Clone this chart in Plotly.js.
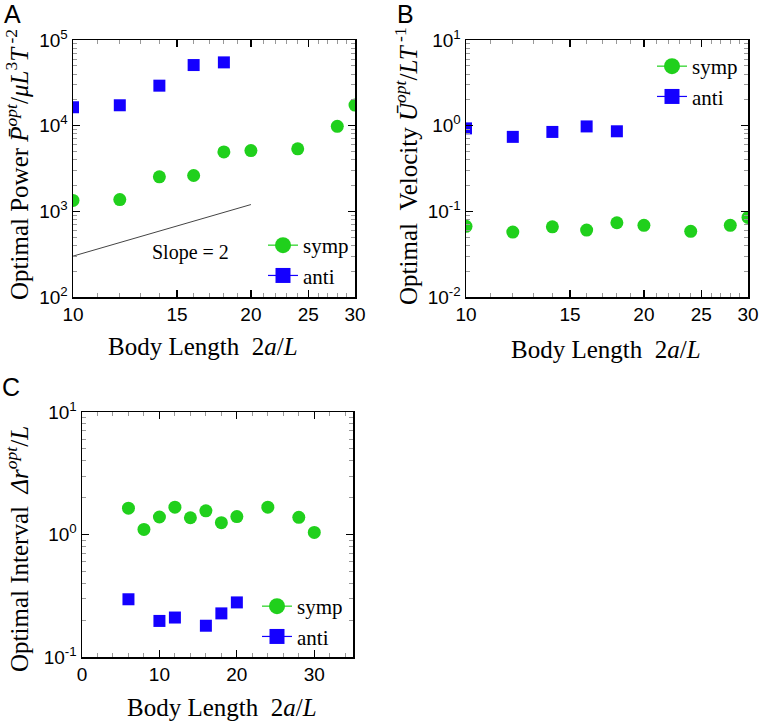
<!DOCTYPE html>
<html>
<head>
<meta charset="utf-8">
<script src="https://cdn.plot.ly/plotly-3.0.1.min.js"></script>
<style>html,body{margin:0;padding:0;background:#fff;}#chart{width:760px;height:721px;}</style>
</head>
<body>
<div id="chart"></div>
<script>
// ---- Data ----
// Panel A: optimal power vs body length
const powerSympX = [10, 12, 14, 16, 18, 20, 24, 28, 30];
const powerSympY = [1340, 1370, 2530, 2620, 4940, 5120, 5360, 9820, 17400];
const powerAntiX = [10, 12, 14, 16, 18];
const powerAntiY = [16400, 17300, 29300, 51000, 54800];
const slopeX = [10, 20];
const slopeY = [300, 1200];

// Panel B: optimal velocity vs body length
const velSympX = [10, 12, 14, 16, 18, 20, 24, 28, 30];
const velSympY = [0.0668, 0.0573, 0.066, 0.0605, 0.0736, 0.0687, 0.0585, 0.0687, 0.085];
const velAntiX = [10, 12, 14, 16, 18];
const velAntiY = [0.93, 0.74, 0.845, 0.98, 0.86];

// Panel C: optimal interval vs body length
const intSympX = [6, 8, 10, 12, 14, 16, 18, 20, 24, 28, 30];
const intSympY = [1.64, 1.10, 1.39, 1.67, 1.37, 1.56, 1.25, 1.40, 1.67, 1.38, 1.04];
const intAntiX = [6, 10, 12, 16, 18, 20];
const intAntiY = [0.296, 0.197, 0.21, 0.18, 0.227, 0.279];

// Tick labels
const logXTicks = [10, 15, 20, 25, 30];
const powerTickVals = [1e2, 1e3, 1e4, 1e5];
const powerTickText = ['10<sup>2</sup>', '10<sup>3</sup>', '10<sup>4</sup>', '10<sup>5</sup>'];
const velTickVals = [1e-2, 1e-1, 1e0, 1e1];
const velTickText = ['10<sup>-2</sup>', '10<sup>-1</sup>', '10<sup>0</sup>', '10<sup>1</sup>'];
const intTickVals = [1e-1, 1e0, 1e1];
const intTickText = ['10<sup>-1</sup>', '10<sup>0</sup>', '10<sup>1</sup>'];
const linXTicks = [0, 10, 20, 30];
const seriesNames = ['symp', 'anti'];

// ---- Styles ----
const GREEN = '#20d01c';
const BLUE = '#1400ff';
const SANS = 'Liberation Sans, Arial, sans-serif';
const SERIF = 'Liberation Serif, Times New Roman, serif';
const W = 760, H = 721;
const px = v => v / W;
const py = v => 1 - v / H;

function logMinor(lo, hi) {
  const out = [];
  for (let e = lo; e < hi; e++) for (let m = 2; m <= 9; m++) out.push(m * Math.pow(10, e));
  return out;
}
function intMinor(lo, hi, step, majors) {
  const out = [];
  for (let v = lo; v <= hi; v += step) if (majors.indexOf(v) < 0) out.push(v);
  return out;
}

const axBase = {
  showgrid: false, zeroline: false, showline: true, linecolor: '#000', linewidth: 1.5,
  mirror: 'allticks', ticks: 'inside', ticklen: 7, tickwidth: 1.2, tickcolor: '#000',
  tickfont: {family: SANS, size: 19, color: '#000'}, tickmode: 'array'
};
function ax(extra) { return Object.assign({}, axBase, extra); }
const minorStyle = {ticks: 'inside', ticklen: 4, tickwidth: 1, tickcolor: '#999', showgrid: false};

const mkSymp = {symbol: 'circle', size: 13, color: GREEN};
const mkAnti = {symbol: 'square', size: 12, color: BLUE};

const traces = [
  {x: slopeX, y: slopeY, mode: 'lines', line: {color: '#444', width: 1}, xaxis: 'x', yaxis: 'y', showlegend: false, hoverinfo: 'skip'},
  {x: powerSympX, y: powerSympY, mode: 'markers', marker: mkSymp, xaxis: 'x', yaxis: 'y', showlegend: false, name: seriesNames[0]},
  {x: powerAntiX, y: powerAntiY, mode: 'markers', marker: mkAnti, xaxis: 'x', yaxis: 'y', showlegend: false, name: seriesNames[1]},
  {x: velSympX, y: velSympY, mode: 'markers', marker: mkSymp, xaxis: 'x2', yaxis: 'y2', showlegend: false, name: seriesNames[0]},
  {x: velAntiX, y: velAntiY, mode: 'markers', marker: mkAnti, xaxis: 'x2', yaxis: 'y2', showlegend: false, name: seriesNames[1]},
  {x: intSympX, y: intSympY, mode: 'markers', marker: mkSymp, xaxis: 'x3', yaxis: 'y3', showlegend: false, name: seriesNames[0]},
  {x: intAntiX, y: intAntiY, mode: 'markers', marker: mkAnti, xaxis: 'x3', yaxis: 'y3', showlegend: false, name: seriesNames[1]}
];
// legend entries (marker with short line through it)
[['legend', 'x', 'y'], ['legend2', 'x2', 'y2'], ['legend3', 'x3', 'y3']].forEach(([lg, xa, ya]) => {
  traces.push({x: [null], y: [null], mode: 'lines+markers', name: seriesNames[0], legend: lg, xaxis: xa, yaxis: ya,
    line: {color: GREEN, width: 1.2}, marker: {symbol: 'circle', size: 16, color: GREEN}});
  traces.push({x: [null], y: [null], mode: 'lines+markers', name: seriesNames[1], legend: lg, xaxis: xa, yaxis: ya,
    line: {color: BLUE, width: 1.2}, marker: {symbol: 'square', size: 15, color: BLUE}});
});

const legBase = {bgcolor: 'rgba(0,0,0,0)', borderwidth: 0, font: {family: SERIF, size: 21, color: '#000'},
  xanchor: 'left', yanchor: 'top', tracegroupgap: 0, itemsizing: 'trace'};

const titleFont = {family: SERIF, size: 25, color: '#000'};
const letterFont = {family: SANS, size: 25, color: '#000'};

const annotations = [
  {text: 'A', x: px(12), y: py(14), font: letterFont},
  {text: 'B', x: px(405), y: py(14), font: letterFont},
  {text: 'C', x: px(11), y: py(387), font: letterFont},
  {text: 'Slope = 2', x: px(190), y: py(252), font: {family: SERIF, size: 20, color: '#000'}},
  {text: 'Body Length\u00a0\u00a02<i>a</i>/<i>L</i>', x: px(203), y: py(346), font: titleFont},
  {text: 'Body Length\u00a0\u00a02<i>a</i>/<i>L</i>', x: px(606), y: py(349), font: titleFont},
  {text: 'Body Length\u00a0\u00a02<i>a</i>/<i>L</i>', x: px(222), y: py(707), font: titleFont},
  {text: 'Optimal Power <i>P̄</i><sup><i>opt</i></sup>/<i>μL</i><sup>3</sup><i>T</i><sup> -2</sup>', x: px(17), y: py(165), textangle: -90, font: titleFont},
  {text: 'Optimal\u00a0\u00a0Velocity <i>Ū</i><sup><i>opt</i></sup>/<i>LT</i><sup> -1</sup>', x: px(406), y: py(166), textangle: -90, font: titleFont},
  {text: 'Optimal Interval\u00a0\u00a0<i>Δr</i><sup><i>opt</i></sup>/<i>L</i>', x: px(17), y: py(549), textangle: -90, font: titleFont}
].map(a => Object.assign({xref: 'paper', yref: 'paper', showarrow: false, xanchor: 'center', yanchor: 'middle'}, a));

const layout = {
  width: W, height: H, margin: {l: 0, r: 0, t: 0, b: 0, pad: 0},
  paper_bgcolor: '#fff', plot_bgcolor: '#fff', showlegend: true,
  xaxis: ax({type: 'log', domain: [px(73), px(355)], anchor: 'y', range: [1, Math.log10(30)],
    tickvals: logXTicks, ticktext: logXTicks.map(String),
    minor: Object.assign({tickmode: 'array', tickvals: intMinor(10, 30, 1, logXTicks)}, minorStyle)}),
  yaxis: ax({type: 'log', domain: [py(297), py(40)], anchor: 'x', range: [2, 5],
    tickvals: powerTickVals, ticktext: powerTickText,
    minor: Object.assign({tickmode: 'array', tickvals: logMinor(2, 5)}, minorStyle)}),
  xaxis2: ax({type: 'log', domain: [px(466), px(748)], anchor: 'y2', range: [1, Math.log10(30)],
    tickvals: logXTicks, ticktext: logXTicks.map(String),
    minor: Object.assign({tickmode: 'array', tickvals: intMinor(10, 30, 1, logXTicks)}, minorStyle)}),
  yaxis2: ax({type: 'log', domain: [py(297), py(40)], anchor: 'x2', range: [-2, 1],
    tickvals: velTickVals, ticktext: velTickText,
    minor: Object.assign({tickmode: 'array', tickvals: logMinor(-2, 1)}, minorStyle)}),
  xaxis3: ax({type: 'linear', domain: [px(82), px(353)], anchor: 'y3', range: [0, 35],
    tickvals: linXTicks, ticktext: linXTicks.map(String),
    minor: Object.assign({tickmode: 'array', tickvals: intMinor(2, 34, 2, linXTicks)}, minorStyle)}),
  yaxis3: ax({type: 'log', domain: [py(657), py(412)], anchor: 'x3', range: [-1, 1],
    tickvals: intTickVals, ticktext: intTickText,
    minor: Object.assign({tickmode: 'array', tickvals: logMinor(-1, 1)}, minorStyle)}),
  legend: Object.assign({}, legBase, {x: px(263), y: py(225)}),
  legend2: Object.assign({}, legBase, {x: px(652), y: py(46)}),
  legend3: Object.assign({}, legBase, {x: px(257), y: py(586)}),
  annotations: annotations
};

Plotly.newPlot('chart', traces, layout, {staticPlot: true, displayModeBar: false});
</script>
</body>
</html>
